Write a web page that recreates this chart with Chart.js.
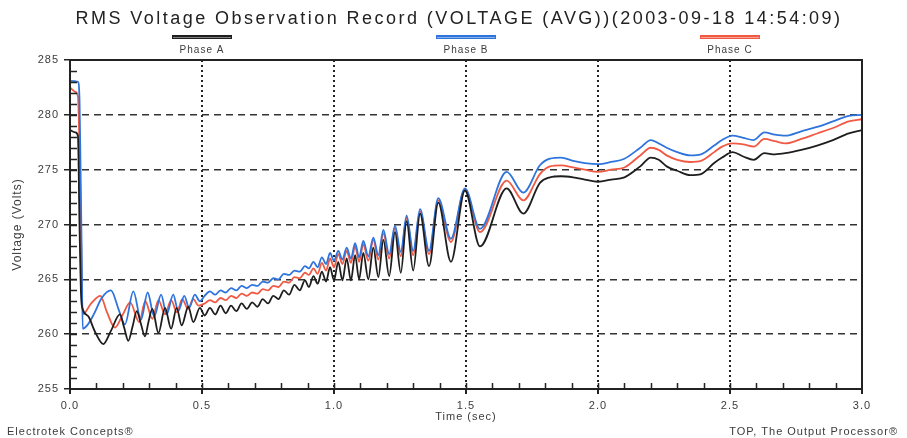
<!DOCTYPE html>
<html>
<head>
<meta charset="utf-8">
<title>RMS Voltage Observation Record</title>
<script src="https://cdn.jsdelivr.net/npm/chart.js@4.4.1/dist/chart.umd.min.js"></script>
<style>
  html, body { margin: 0; padding: 0; background: #fff; }
  #wrap { width: 907px; height: 438px; }
</style>
</head>
<body>
<div id="wrap"><canvas id="rmsChart" width="907" height="438"></canvas></div>
<script>
// Chart text
const chartTitle = 'RMS Voltage Observation Record (VOLTAGE (AVG))(2003-09-18 14:54:09)';
const footerLeft = 'Electrotek Concepts\u00ae';
const footerRight = 'TOP, The Output Processor\u00ae';
const seriesNames = ['Phase A', 'Phase B', 'Phase C'];

// First half second (the three phases swing out of step here)
const earlyTimeA = [0.000, 0.020, 0.030, 0.036, 0.042, 0.048, 0.070, 0.095, 0.126, 0.155, 0.189, 0.205, 0.221, 0.237,
  0.253, 0.268, 0.284, 0.298, 0.312, 0.335, 0.360, 0.383, 0.404, 0.423, 0.448, 0.467, 0.492];
const earlyPhaseA = [278.6, 278.4, 278.1, 270.0, 263.5, 262.3, 261.6, 260.2, 259.1, 260.3, 261.8, 260.6, 259.4, 260.7,
  262.1, 261.0, 259.8, 261.2, 262.3, 260.1, 262.4, 260.5, 262.4, 260.8, 262.5, 261.1, 262.4];

const earlyTimeB = [0.000, 0.030, 0.036, 0.040, 0.044, 0.048, 0.065, 0.090, 0.120, 0.155, 0.185, 0.208, 0.240, 0.269,
  0.294, 0.319, 0.345, 0.366, 0.391, 0.410, 0.433, 0.451, 0.473, 0.492];
const earlyPhaseB = [283.1, 283.0, 281.4, 275.0, 268.0, 260.5, 260.8, 261.8, 263.3, 264.0, 262.2, 260.9, 263.9, 261.3,
  263.8, 261.6, 263.6, 261.8, 263.6, 262.1, 263.5, 262.4, 263.6, 263.0];

const earlyTimeC = [0.000, 0.020, 0.030, 0.040, 0.048, 0.080, 0.115, 0.140, 0.170, 0.200, 0.228, 0.262, 0.285, 0.312,
  0.335, 0.360, 0.383, 0.405, 0.425, 0.447, 0.467, 0.487];
const earlyPhaseC = [282.5, 282.1, 281.7, 272.0, 261.8, 262.8, 263.5, 262.0, 260.6, 261.8, 262.9, 261.1, 263.0, 261.4,
  263.1, 261.8, 263.1, 262.0, 263.2, 262.3, 263.2, 262.6];

// Rest of the record (phases move together)
const lateTime = [
  0.510, 0.530, 0.550, 0.570, 0.590, 0.610, 0.630, 0.650, 0.670, 0.690,
  0.710, 0.730, 0.750, 0.770, 0.790, 0.810, 0.830, 0.850, 0.870, 0.890,
  0.905, 0.922, 0.938, 0.954, 0.970, 0.985, 1.000, 1.016, 1.032, 1.048,
  1.064, 1.080, 1.095, 1.111, 1.130, 1.149, 1.168, 1.187, 1.209, 1.231,
  1.253, 1.275, 1.300, 1.326, 1.360, 1.395, 1.443, 1.496, 1.553, 1.654,
  1.717, 1.780, 1.818, 1.860, 1.906, 1.950, 2.000, 2.050, 2.100, 2.160,
  2.200, 2.230, 2.260, 2.300, 2.350, 2.390, 2.440, 2.470, 2.510, 2.550,
  2.590, 2.630, 2.670, 2.710, 2.770, 2.830, 2.890, 2.950, 3.000];
const latePhaseA = [
  261.7, 262.4, 261.8, 262.6, 261.9, 262.6, 262.1, 262.8, 262.3, 262.9,
  262.5, 263.2, 262.8, 263.5, 263.2, 264.0, 263.6, 264.5, 264.0, 264.9,
  264.3, 265.3, 264.6, 265.7, 264.8, 266.1, 264.9, 266.6, 264.9, 266.9,
  264.9, 267.2, 265.0, 267.4, 265.0, 267.9, 265.2, 268.6, 265.3, 269.3,
  265.6, 270.3, 265.8, 271.0, 266.2, 272.0, 266.6, 273.1, 268.0, 273.3,
  271.0, 273.8, 274.3, 274.4, 274.3, 274.1, 273.9, 274.1, 274.3, 275.3,
  276.1, 275.9, 275.3, 274.9, 274.5, 274.6, 275.6, 276.1, 276.6, 276.2,
  275.9, 276.5, 276.4, 276.5, 276.8, 277.2, 277.7, 278.3, 278.6];
const latePhaseB = [
  263.5, 263.9, 263.6, 264.0, 263.8, 264.2, 264.0, 264.4, 264.2, 264.5,
  264.4, 264.8, 264.7, 265.1, 265.0, 265.5, 265.4, 265.8, 265.7, 266.2,
  266.0, 266.6, 266.1, 267.0, 266.4, 267.4, 266.7, 267.6, 266.8, 267.9,
  266.9, 268.3, 267.0, 268.5, 267.1, 268.8, 267.2, 269.5, 267.3, 269.9,
  267.5, 270.8, 267.6, 271.4, 267.6, 272.4, 268.7, 273.3, 269.6, 274.8,
  272.9, 275.4, 276.0, 276.1, 275.8, 275.6, 275.5, 275.7, 276.0, 277.0,
  277.7, 277.4, 277.0, 276.6, 276.3, 276.4, 277.2, 277.7, 278.1, 277.9,
  277.7, 278.4, 278.2, 278.1, 278.5, 278.9, 279.4, 279.9, 280.0];
const latePhaseC = [
  262.8, 263.1, 262.9, 263.3, 263.1, 263.5, 263.3, 263.7, 263.5, 263.8,
  263.7, 264.1, 264.0, 264.4, 264.3, 264.8, 264.7, 265.2, 265.1, 265.6,
  265.4, 266.0, 265.5, 266.5, 265.8, 266.9, 266.1, 267.3, 266.4, 267.6,
  266.5, 268.0, 266.6, 268.2, 266.7, 268.6, 266.8, 269.2, 266.9, 269.7,
  267.1, 270.6, 267.2, 271.2, 267.3, 272.2, 268.4, 273.2, 269.3, 274.0,
  272.2, 274.6, 275.3, 275.4, 275.2, 275.0, 274.8, 275.0, 275.2, 276.3,
  277.0, 276.8, 276.3, 275.9, 275.7, 275.8, 276.6, 277.1, 277.4, 277.3,
  277.1, 277.8, 277.6, 277.4, 277.8, 278.3, 278.8, 279.4, 279.6];

// Axis ranges and tick labels
const timeMin = 0, timeMax = 3, timeStep = 0.5;
const voltMin = 255, voltMax = 285, voltStep = 5;

function toPoints(times, values) {
  return times.map((t, i) => ({x: t, y: values[i]}));
}

const ink = '#222';
const textGray = '#3c3c3c';

// Frame, minor ticks, title, legend and footers
const decorPlugin = {
  id: 'decor',
  beforeDraw(chart) {
    chart.ctx.letterSpacing = '1px';
  },
  afterDraw(chart) {
    const {ctx, chartArea: a, scales: {x, y}} = chart;
    ctx.save();

    // minor ticks on the inside of the left and bottom axes
    ctx.strokeStyle = ink;
    ctx.lineWidth = 1.5;
    ctx.beginPath();
    for (let v = voltMin + 1; v < voltMax; v++) {
      const py = Math.round(y.getPixelForValue(v)) + 0.5;
      ctx.moveTo(a.left, py);
      ctx.lineTo(a.left + 7, py);
    }
    for (let i = 1; i < (timeMax - timeMin) * 10; i++) {
      const px = Math.round(x.getPixelForValue(timeMin + i / 10)) + 0.5;
      ctx.moveTo(px, a.bottom);
      ctx.lineTo(px, a.bottom - 6);
    }
    ctx.stroke();

    // plot frame
    ctx.lineWidth = 2;
    ctx.strokeRect(a.left, a.top, a.right - a.left, a.bottom - a.top);

    // title, stretched a little to the scanned width
    ctx.fillStyle = ink;
    ctx.textBaseline = 'middle';
    ctx.textAlign = 'center';
    ctx.font = '18px "Liberation Sans", Arial, sans-serif';
    ctx.letterSpacing = '0px';
    const w = ctx.measureText(chartTitle).width;
    ctx.letterSpacing = Math.max(0, (767 - w) / chartTitle.length) + 'px';
    ctx.fillText(chartTitle, 459, 19);

    // legend: line sample above each name
    ctx.font = '10px "Liberation Sans", Arial, sans-serif';
    ctx.letterSpacing = '1px';
    chart.data.datasets.forEach((ds, i) => {
      const cx = a.left + (a.right - a.left) * (2 * i + 1) / 6;
      ctx.strokeStyle = ds.borderColor;
      ctx.lineWidth = 4;
      ctx.beginPath();
      ctx.moveTo(cx - 30, 37);
      ctx.lineTo(cx + 30, 37);
      ctx.stroke();
      ctx.strokeStyle = 'rgba(255,255,255,0.45)';
      ctx.lineWidth = 1;
      ctx.beginPath();
      ctx.moveTo(cx - 29, 37.5);
      ctx.lineTo(cx + 29, 37.5);
      ctx.stroke();
      ctx.fillStyle = textGray;
      ctx.fillText(ds.label, cx, 50);
    });

    // footers
    ctx.font = '11px "Liberation Sans", Arial, sans-serif';
    ctx.textAlign = 'left';
    ctx.fillText(footerLeft, 7, 432);
    ctx.textAlign = 'right';
    ctx.fillText(footerRight, 898, 432);
    ctx.restore();
  }
};

const lineStyle = {
  borderWidth: 1.8,
  pointRadius: 0,
  fill: false,
  cubicInterpolationMode: 'monotone'
};

const rmsChart = new Chart(document.getElementById('rmsChart'), {
  type: 'line',
  data: {
    datasets: [
      Object.assign({
        label: seriesNames[0],
        data: toPoints(earlyTimeA.concat(lateTime), earlyPhaseA.concat(latePhaseA)),
        borderColor: '#1e1e1e'
      }, lineStyle),
      Object.assign({
        label: seriesNames[1],
        data: toPoints(earlyTimeB.concat(lateTime), earlyPhaseB.concat(latePhaseB)),
        borderColor: '#2f74dc'
      }, lineStyle),
      Object.assign({
        label: seriesNames[2],
        data: toPoints(earlyTimeC.concat(lateTime), earlyPhaseC.concat(latePhaseC)),
        borderColor: '#f05a44'
      }, lineStyle)
    ]
  },
  options: {
    responsive: false,
    animation: false,
    layout: { padding: { left: 0, right: 45, top: 60, bottom: 0 } },
    plugins: {
      legend: { display: false },
      title: { display: false },
      tooltip: { enabled: false }
    },
    scales: {
      x: {
        type: 'linear',
        min: timeMin,
        max: timeMax,
        afterFit: (scale) => { scale.height = 49; },
        ticks: {
          stepSize: timeStep,
          maxRotation: 0,
          padding: 5,
          color: textGray,
          font: { family: '"Liberation Sans", Arial, sans-serif', size: 11 },
          callback: (v) => v.toFixed(1)
        },
        grid: {
          color: (c) => (c.tick && c.tick.value > timeMin && c.tick.value < timeMax) ? ink : 'rgba(0,0,0,0)',
          lineWidth: 2,
          tickColor: ink,
          tickLength: 5
        },
        border: { display: false, dash: [2, 3] },
        title: {
          display: true,
          text: 'Time (sec)',
          color: textGray,
          font: { family: '"Liberation Sans", Arial, sans-serif', size: 11 },
          padding: { top: 0, bottom: 14 }
        }
      },
      y: {
        min: voltMin,
        max: voltMax,
        afterFit: (scale) => { scale.width = 70; },
        ticks: {
          stepSize: voltStep,
          padding: 5,
          color: textGray,
          font: { family: '"Liberation Sans", Arial, sans-serif', size: 11 }
        },
        grid: {
          color: (c) => (c.tick && c.tick.value > voltMin && c.tick.value < voltMax) ? '#333' : 'rgba(0,0,0,0)',
          lineWidth: 1.5,
          tickColor: ink,
          tickLength: 6
        },
        border: { display: false, dash: [7, 5] },
        title: {
          display: true,
          text: 'Voltage (Volts)',
          color: textGray,
          font: { family: '"Liberation Sans", Arial, sans-serif', size: 12 },
          padding: { top: 10, bottom: 0 }
        }
      }
    }
  },
  plugins: [decorPlugin]
});
</script>
</body>
</html>
